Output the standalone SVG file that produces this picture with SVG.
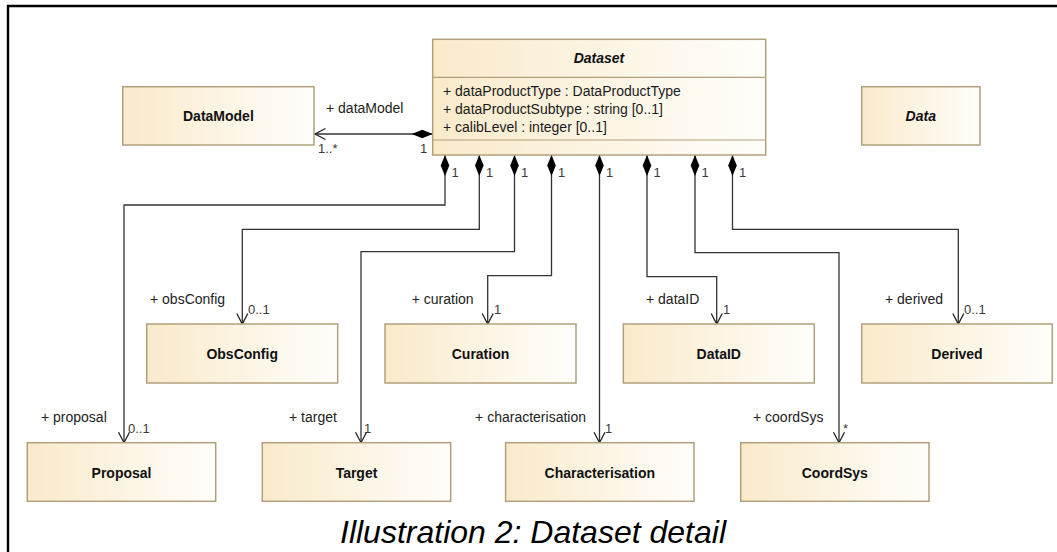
<svg xmlns="http://www.w3.org/2000/svg" width="1057" height="552" viewBox="0 0 1057 552">
<style>
.box{fill:url(#g);stroke:#B0A07C;stroke-width:1.5}
.name{font-family:"Liberation Sans",Arial,sans-serif;font-size:14px;font-weight:bold;fill:#111;text-anchor:middle}
.it{font-style:italic}
.attr{font-family:"Liberation Sans",Arial,sans-serif;font-size:14px;fill:#1a1a1a}
.role{font-family:"Liberation Sans",Arial,sans-serif;font-size:14px;fill:#222}
.mult{font-family:"Liberation Sans",Arial,sans-serif;font-size:13px;fill:#3a3a3a}
.conn{fill:none;stroke:#333;stroke-width:1.3;marker-start:url(#dia);marker-end:url(#arr)}
.div{stroke:#B0A07C;stroke-width:1.2}
.cap{font-family:"Liberation Sans",Arial,sans-serif;font-size:32px;font-style:italic;fill:#000}
</style>
<defs>
<linearGradient id="g" x1="0" y1="0" x2="1" y2="0">
<stop offset="0" stop-color="#F9EACA"/>
<stop offset="1" stop-color="#FFFEFB"/>
</linearGradient>
<marker id="dia" markerUnits="userSpaceOnUse" orient="auto" refX="0" refY="0" markerWidth="30" markerHeight="30" overflow="visible">
<path d="M0,0 L10.5,-4.3 L21,0 L10.5,4.3 Z" fill="#000"/>
</marker>
<marker id="arr" markerUnits="userSpaceOnUse" orient="auto" refX="0" refY="0" markerWidth="30" markerHeight="30" overflow="visible">
<path d="M-10.5,-5.5 L0,0 L-10.5,5.5" fill="none" stroke="#222" stroke-width="1.3"/>
</marker>
</defs>
<rect x="0" y="0" width="1057" height="552" fill="#fff"/>
<path d="M8,552 V6 H1057" fill="none" stroke="#000" stroke-width="2.4"/>

<g id="connectors">
<path class="conn" d="M432.7,134 H315"/>
<path class="conn" d="M445,155 V205 H124 V442.7"/>
<path class="conn" d="M479.3,155 V229.3 H242.3 V324"/>
<path class="conn" d="M514.5,155 V251.7 H361 V442.7"/>
<path class="conn" d="M551.5,155 V275.7 H487.7 V324"/>
<path class="conn" d="M599.5,155 V442.7"/>
<path class="conn" d="M647,155 V276.7 H716.7 V324"/>
<path class="conn" d="M695,155 V252.7 H839 V442.7"/>
<path class="conn" d="M732.5,155 V229.3 H958.3 V324"/>
<text class="role" x="326" y="113">+ dataModel</text>
<text class="mult" x="318" y="153">1..*</text>
<text class="mult" x="420" y="153">1</text>
<text class="mult" x="451.5" y="177">1</text>
<text class="mult" x="486" y="177">1</text>
<text class="mult" x="521" y="177">1</text>
<text class="mult" x="558" y="177">1</text>
<text class="mult" x="606" y="177">1</text>
<text class="mult" x="653.5" y="177">1</text>
<text class="mult" x="701.5" y="177">1</text>
<text class="mult" x="739" y="177">1</text>
<text class="role" x="150" y="304">+ obsConfig</text>
<text class="mult" x="248" y="314">0..1</text>
<text class="role" x="411.7" y="304">+ curation</text>
<text class="mult" x="494" y="314">1</text>
<text class="role" x="646" y="304">+ dataID</text>
<text class="mult" x="723" y="314">1</text>
<text class="role" x="885" y="304">+ derived</text>
<text class="mult" x="964" y="314">0..1</text>
<text class="role" x="41" y="422">+ proposal</text>
<text class="mult" x="128" y="433">0..1</text>
<text class="role" x="289" y="422">+ target</text>
<text class="mult" x="364" y="433">1</text>
<text class="role" x="586" y="422" text-anchor="end">+ characterisation</text>
<text class="mult" x="605" y="433">1</text>
<text class="role" x="753" y="422">+ coordSys</text>
<text class="mult" x="843" y="433">*</text>
</g>

<g id="Dataset">
<rect class="box" x="432.7" y="39.3" width="333" height="115.7"/>
<line class="div" x1="432.7" y1="77.3" x2="765.7" y2="77.3"/>
<line class="div" x1="432.7" y1="140" x2="765.7" y2="140"/>
<text class="name it" x="599" y="62.5">Dataset</text>
<text class="attr" x="443" y="96">+ dataProductType : DataProductType</text>
<text class="attr" x="443" y="114">+ dataProductSubtype : string [0..1]</text>
<text class="attr" x="443" y="131.7">+ calibLevel : integer [0..1]</text>
</g>
<g id="DataModel">
<rect class="box" x="122.7" y="86.7" width="191.3" height="58.3"/>
<text class="name" x="218.4" y="121">DataModel</text>
</g>
<g id="Data">
<rect class="box" x="861.7" y="86.7" width="118.3" height="58.3"/>
<text class="name it" x="920.8" y="121">Data</text>
</g>
<g id="ObsConfig">
<rect class="box" x="146.7" y="324" width="191" height="59"/>
<text class="name" x="242.2" y="358.5">ObsConfig</text>
</g>
<g id="Curation">
<rect class="box" x="385" y="324" width="191" height="59"/>
<text class="name" x="480.5" y="358.5">Curation</text>
</g>
<g id="DataID">
<rect class="box" x="623.3" y="324" width="191" height="59"/>
<text class="name" x="718.8" y="358.5">DataID</text>
</g>
<g id="Derived">
<rect class="box" x="861.7" y="324" width="190.6" height="59"/>
<text class="name" x="957" y="358.5">Derived</text>
</g>
<g id="Proposal">
<rect class="box" x="27.3" y="442.7" width="188.4" height="58.6"/>
<text class="name" x="121.5" y="477.7">Proposal</text>
</g>
<g id="Target">
<rect class="box" x="262.3" y="442.7" width="188.4" height="58.6"/>
<text class="name" x="356.5" y="477.7">Target</text>
</g>
<g id="Characterisation">
<rect class="box" x="505.6" y="442.7" width="188.4" height="58.6"/>
<text class="name" x="599.8" y="477.7">Characterisation</text>
</g>
<g id="CoordSys">
<rect class="box" x="740.7" y="442.7" width="188.3" height="58.6"/>
<text class="name" x="834.8" y="477.7">CoordSys</text>
</g>

<text class="cap" x="340" y="543">Illustration 2: Dataset detail</text>
</svg>
